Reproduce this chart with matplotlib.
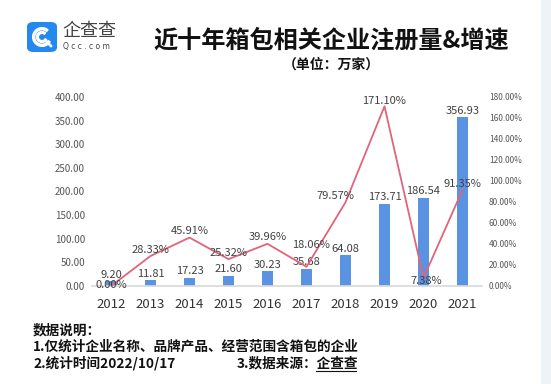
import matplotlib
matplotlib.use("Agg")
import matplotlib.pyplot as plt
from matplotlib.patches import FancyBboxPatch, Rectangle, Wedge

plt.rcParams['font.family'] = ['Noto Sans CJK SC', 'DejaVu Sans']

years = ['2012', '2013', '2014', '2015', '2016', '2017', '2018', '2019', '2020', '2021']
counts = [9.20, 11.81, 17.23, 21.60, 30.23, 35.68, 64.08, 173.71, 186.54, 356.93]
growth = [0.00, 28.33, 45.91, 25.32, 39.96, 18.06, 79.57, 171.10, 7.38, 91.35]
left_ticks = [0, 50, 100, 150, 200, 250, 300, 350, 400]
right_ticks = [0, 20, 40, 60, 80, 100, 120, 140, 160, 180]

bar_color = '#5b93e3'
line_color = '#e0647a'
txt = '#404040'

fig = plt.figure(figsize=(5.51, 3.84), dpi=100)
fig.patch.set_facecolor('white')
W, H = 551, 384

# light strip at the right edge
fig.patches.append(Rectangle((541 / W, 0), 10 / W, 1, transform=fig.transFigure,
                             facecolor='#eef3f8', edgecolor='none', zorder=0))

ax = fig.add_axes([92 / W, 1 - 285.7 / H, 390 / W, 188.7 / H])
x = list(range(len(years)))
ax.bar(x, counts, width=0.29, color=bar_color, zorder=2)
ax.set_xlim(-0.5, len(years) - 0.5)
ax.set_ylim(0, 400)
ax.set_yticks(left_ticks)
ax.set_yticklabels(['%.2f' % v for v in left_ticks], fontsize=7, color='#555555')
ax.set_xticks(x)
ax.set_xticklabels(years, fontsize=9.5, color='#333333')
ax.tick_params(axis='both', length=0)
ax.tick_params(axis='y', pad=5)
ax.tick_params(axis='x', pad=9)
for s in ['top', 'left', 'right']:
    ax.spines[s].set_visible(False)
ax.spines['bottom'].set_color('#d9d9d9')
ax.spines['bottom'].set_linewidth(1.2)

for i, v in enumerate(counts):
    ax.annotate('%.2f' % v, (i, v), xytext=(0, 1), textcoords='offset points',
                ha='center', va='bottom', fontsize=8, color=txt, zorder=5)

ax2 = ax.twinx()
ax2.plot(x, growth, color=line_color, linewidth=1.3, zorder=3)
ax2.set_ylim(0, 180)
ax2.set_yticks(right_ticks)
ax2.set_yticklabels(['%.2f%%' % v for v in right_ticks], fontsize=6, color='#555555')
ax2.tick_params(axis='y', length=0, pad=5)
for s in ['top', 'left', 'right', 'bottom']:
    ax2.spines[s].set_visible(False)

# growth labels: (dx, dy) offsets in points
offs = [(0, -3), (0, 1), (0, 1), (0, 1), (0, 1), (3, 12), (-7, 1), (0, 0), (2, -6), (0, 1)]
for i, v in enumerate(growth):
    dx, dy = offs[i]
    ax2.annotate('%.2f%%' % v, (i, v), xytext=(dx, dy), textcoords='offset points',
                 ha='center', va='bottom', fontsize=8, color=txt, zorder=5)

# title
fig.text(331 / W, 1 - 41 / H, '近十年箱包相关企业注册量&增速', ha='center', va='center',
         fontsize=17.4, fontweight='bold', color='#111111')
fig.text(331 / W, 1 - 65 / H, '（单位：万家）', ha='center', va='center',
         fontsize=10, fontweight='bold', color='#111111')

# logo
logo = FancyBboxPatch((27 / W, 1 - 52 / H), 30 / W, 30 / H, transform=fig.transFigure,
                      boxstyle='round,pad=0,rounding_size=0.012', facecolor='#2389ee',
                      edgecolor='none', zorder=1)
fig.patches.append(logo)
lax = fig.add_axes([29 / W, 1 - 50 / H, 26 / W, 26 / H], zorder=3)
lax.set_xlim(-1, 1)
lax.set_ylim(-1, 1)
lax.set_aspect('equal')
lax.axis('off')
lax.add_patch(Wedge((0, 0), 0.72, 50, 330, width=0.16, color='white'))
lax.add_patch(Wedge((0, 0), 0.42, 50, 330, width=0.14, color='white'))
lax.plot([0.35, 0.7], [-0.35, -0.7], color='white', linewidth=2, solid_capstyle='round')
fig.text(62 / W, 1 - 31 / H, '企查查', ha='left', va='center', fontsize=13,
         color='#444444')
fig.text(63 / W, 1 - 46 / H, 'Q c c . c o m', ha='left', va='center', fontsize=5.5,
         color='#444444', family='DejaVu Sans')

# footer notes
fig.text(33 / W, 1 - 330 / H, '数据说明：', ha='left', va='center', fontsize=9.8,
         fontweight='bold', color='#111111')
fig.text(33 / W, 1 - 347 / H, '1.仅统计企业名称、品牌产品、经营范围含箱包的企业', ha='left',
         va='center', fontsize=9.8, fontweight='bold', color='#111111')
fig.text(33 / W, 1 - 363 / H, '2.统计时间2022/10/17', ha='left', va='center',
         fontsize=9.8, fontweight='bold', color='#111111')
fig.text(237 / W, 1 - 363 / H, '3.数据来源：企查查', ha='left', va='center',
         fontsize=9.8, fontweight='bold', color='#111111')
fig.lines.append(plt.Line2D([316 / W, 356 / W], [1 - 371 / H, 1 - 371 / H],
                            transform=fig.transFigure, color='#111111', linewidth=0.8))

fig.savefig('out.png', dpi=100)
